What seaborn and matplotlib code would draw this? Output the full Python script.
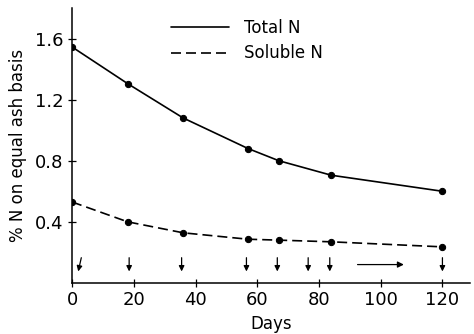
import matplotlib
matplotlib.use("Agg")
import matplotlib.pyplot as plt
import seaborn as sns
import pandas as pd
from matplotlib.lines import Line2D

days = [0, 18, 36, 57, 67, 84, 120]
total_n = [1.545, 1.305, 1.08, 0.88, 0.80, 0.705, 0.60]
soluble_n = [0.53, 0.40, 0.328, 0.286, 0.28, 0.269, 0.236]
arrow_days = [2, 18.5, 35.5, 56.5, 66.5, 76.5, 83.5, 120]
x_ticks = [0, 20, 40, 60, 80, 100, 120]
y_ticks = [0.4, 0.8, 1.2, 1.6]

sns.set_style("ticks")
plt.rcParams['font.family'] = ['DejaVu Sans']
plt.rcParams.update({"text.color": "black", "axes.labelcolor": "black",
                     "xtick.color": "black", "ytick.color": "black",
                     "axes.edgecolor": "black"})

df = pd.DataFrame({"Days": days * 2,
                   "value": total_n + soluble_n,
                   "series": ["Total N"] * len(days) + ["Soluble N"] * len(days)})

fig = plt.figure(figsize=(4.74, 3.34), dpi=100)
ax = fig.add_axes([0.152, 0.153, 0.84, 0.823])

sns.lineplot(data=df, x="Days", y="value", hue="series", style="series",
             palette={"Total N": "black", "Soluble N": "black"},
             dashes={"Total N": "", "Soluble N": (6, 3)},
             markers={"Total N": "o", "Soluble N": "o"},
             markersize=4.5, markeredgecolor="black", linewidth=1.2,
             ax=ax, legend=False)

# arrows at the bottom
for i, d in enumerate(arrow_days):
    dx = 1.0 if i == 0 else 0.0
    ax.annotate("", xy=(d, 0.075), xytext=(d + dx, 0.165),
                arrowprops=dict(arrowstyle="-|>", color="black", lw=0.9,
                                mutation_scale=8, shrinkA=0, shrinkB=0))
ax.annotate("", xy=(107.5, 0.12), xytext=(92.5, 0.12),
            arrowprops=dict(arrowstyle="-|>", color="black", lw=0.9,
                            mutation_scale=9, shrinkA=0, shrinkB=0))

ax.set_xlim(0, 129)
ax.set_ylim(0, 1.8)
ax.set_xticks(x_ticks)
ax.set_yticks(y_ticks)
ax.set_xticklabels([str(t) for t in x_ticks], fontsize=13)
ax.set_yticklabels([f"{t:.1f}" for t in y_ticks], fontsize=13)
ax.tick_params(direction="inout", length=6, width=0.9, pad=3)
ax.set_xlabel("Days", fontsize=12, labelpad=4)
ax.set_ylabel("% N on equal ash basis", fontsize=12, labelpad=6)
sns.despine(ax=ax)
for s in ["left", "bottom"]:
    ax.spines[s].set_linewidth(1.1)

handles = [Line2D([], [], color="black", lw=1.2),
           Line2D([], [], color="black", lw=1.2, dashes=(6, 3))]
ax.legend(handles, ["Total N", "Soluble N"], loc="upper left",
          bbox_to_anchor=(0.21, 1.015), frameon=False, fontsize=12,
          handlelength=3.5, handletextpad=0.9, labelspacing=0.45)

fig.savefig("out.png", dpi=100)
